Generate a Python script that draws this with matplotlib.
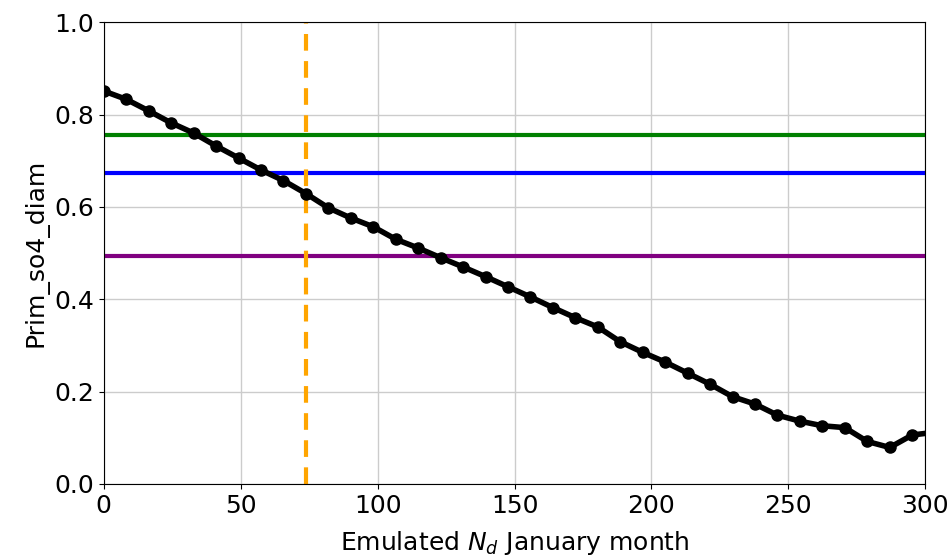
import matplotlib
matplotlib.use('Agg')
import matplotlib.pyplot as plt

# emulated Nd values and the diameter along them
nd = [0, 8.2, 16.4, 24.6, 32.8, 41.0, 49.2, 57.4, 65.6, 73.8,
      82.0, 90.2, 98.4, 106.6, 114.8, 123.0, 131.2, 139.4, 147.6, 155.8,
      164.0, 172.2, 180.4, 188.6, 196.8, 205.0, 213.2, 221.4, 229.6, 237.8,
      246.0, 254.2, 262.4, 270.6, 278.8, 287.0, 295.2, 303.4]
diam = [0.851, 0.833, 0.808, 0.782, 0.760, 0.732, 0.706, 0.680, 0.657, 0.629,
        0.598, 0.576, 0.557, 0.530, 0.511, 0.490, 0.470, 0.449, 0.427, 0.405,
        0.382, 0.360, 0.340, 0.308, 0.285, 0.264, 0.240, 0.216, 0.189, 0.173,
        0.149, 0.136, 0.126, 0.122, 0.092, 0.079, 0.106, 0.112]

hlines = [0.756, 0.673, 0.493]
hcolors = ['green', 'blue', 'purple']
obs_nd = 73.8

fig = plt.figure(figsize=(9.52, 5.55), dpi=100)
ax = fig.add_axes([0.109, 0.128, 0.863, 0.832])

ax.plot(nd, diam, color='black', lw=4, marker='o', ms=8, zorder=3)
for val, col in zip(hlines, hcolors):
    ax.axhline(val, color=col, lw=3, zorder=2)
ax.axvline(obs_nd, color='orange', lw=3, ls='--', dashes=(4, 2.5), zorder=2)

ax.set_xlim(0, 300)
ax.set_ylim(0, 1)
ax.grid(True, color='#cccccc', lw=1)
ax.set_axisbelow(True)
ax.tick_params(labelsize=18)
ax.set_xlabel('Emulated $N_d$ January month', fontsize=18, labelpad=8)
ax.set_ylabel('Prim_so4_diam', fontsize=18)

plt.savefig('out.png', dpi=100)
